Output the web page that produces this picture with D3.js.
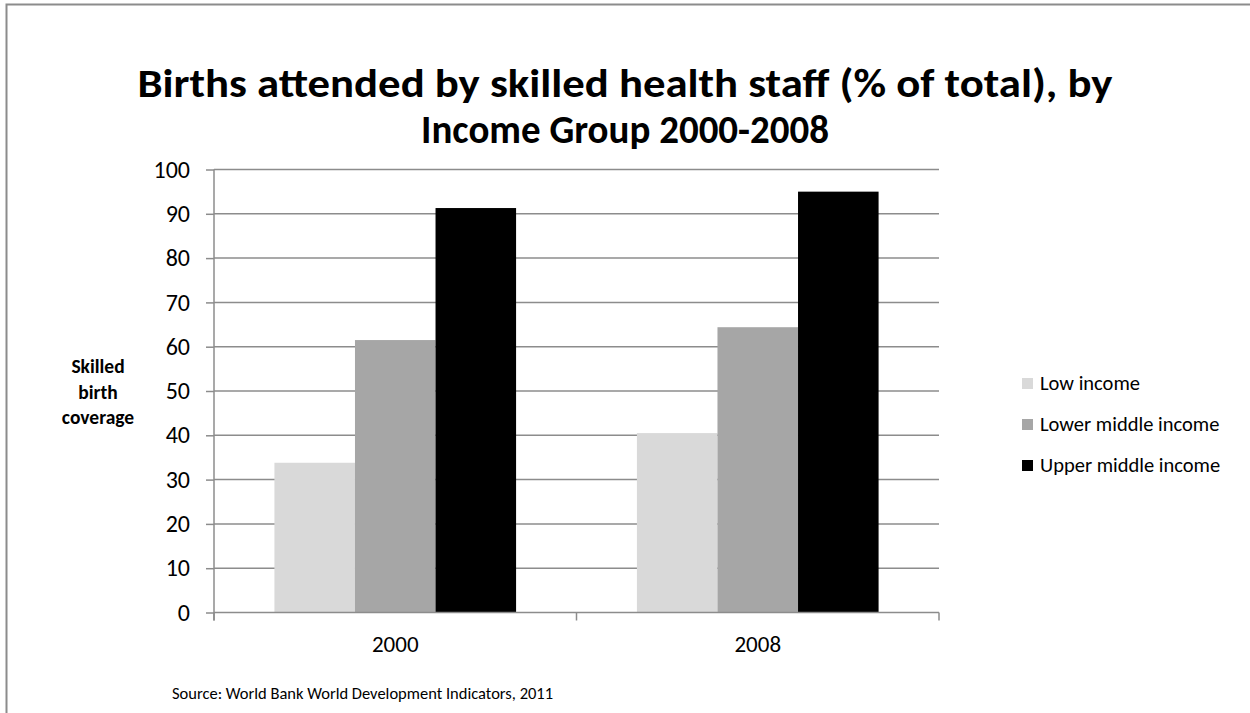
<!DOCTYPE html>
<html>
<head>
<meta charset="utf-8">
<script src="https://cdn.jsdelivr.net/npm/d3@7"></script>
<style>
  html, body { margin: 0; padding: 0; background: #fff; }
  svg { display: block; font-family: Carlito, Calibri, Lato, "Open Sans", sans-serif; }
</style>
</head>
<body>
<svg id="chart" width="1250" height="713"></svg>
<script>
// Births attended by skilled health staff, by income group
const years = ["2000", "2008"];
const seriesNames = ["Low income", "Lower middle income", "Upper middle income"];
const lowIncome = [33.8, 40.5];
const lowerMiddleIncome = [61.5, 64.4];
const upperMiddleIncome = [91.3, 95.0];
const seriesColors = ["#d9d9d9", "#a6a6a6", "#000000"];
const yTicks = [0, 10, 20, 30, 40, 50, 60, 70, 80, 90, 100];

const FONT = "Carlito, Calibri, Lato, 'Open Sans', sans-serif";
const seriesValues = [lowIncome, lowerMiddleIncome, upperMiddleIncome];
const rows = years.map((yr, i) => ({
  year: yr,
  values: seriesNames.map((s, j) => ({ series: s, idx: j, value: seriesValues[j][i] }))
}));

const svg = d3.select("#chart");
const plot = { left: 214, right: 939, top: 169.5, bottom: 612.5 };

// Outer frame (top and left edges visible)
svg.append("path")
  .attr("d", "M6.5,1250 L6.5,4.5 L1250,4.5")
  .attr("fill", "none").attr("stroke", "#8c8c8c").attr("stroke-width", 2);

// Title, two centred lines
const titleLines = [
  { text: "Births attended by skilled health staff (% of total), by", y: 97, w: 975 },
  { text: "Income Group 2000-2008", y: 143, w: 408 }
];
svg.append("g").selectAll("text").data(titleLines).join("text")
  .attr("x", 625).attr("y", d => d.y)
  .attr("text-anchor", "middle")
  .attr("font-weight", "bold")
  .attr("font-size", 41)
  .attr("textLength", d => d.w)
  .attr("lengthAdjust", "spacingAndGlyphs")
  .attr("fill", "#000")
  .text(d => d.text);

const x0 = d3.scaleBand().domain(years).range([plot.left, plot.right]).paddingInner(0).paddingOuter(0);
// 150% gap width: bars fill 3 / (3 + 1.5) of each category
const groupFrac = 3 / 4.5;
const x1 = d3.scaleBand().domain(d3.range(seriesNames.length))
  .range([0, x0.bandwidth() * groupFrac]).padding(0);
const y = d3.scaleLinear().domain([0, 100]).range([plot.bottom, plot.top]);

// Horizontal gridlines
svg.append("g").selectAll("line").data(yTicks.filter(t => t > 0)).join("line")
  .attr("x1", plot.left).attr("x2", plot.right)
  .attr("y1", d => y(d)).attr("y2", d => y(d))
  .attr("stroke", "#8c8c8c").attr("stroke-width", 1.5);

// Bars
const groups = svg.append("g").selectAll("g").data(rows).join("g")
  .attr("transform", d => `translate(${x0(d.year) + x0.bandwidth() * (1 - groupFrac) / 2},0)`);
groups.selectAll("rect").data(d => d.values).join("rect")
  .attr("x", d => x1(d.idx))
  .attr("width", x1.bandwidth())
  .attr("y", d => y(d.value))
  .attr("height", d => y(0) - y(d.value))
  .attr("fill", d => seriesColors[d.idx]);

// Y axis
const yAxis = svg.append("g").attr("transform", `translate(${plot.left},0)`)
  .call(d3.axisLeft(y).tickValues(yTicks).tickSize(8).tickPadding(16));
yAxis.select(".domain").attr("stroke", "#8c8c8c").attr("stroke-width", 1.5)
  .attr("d", `M0,${plot.top}V${plot.bottom + 8}`);
yAxis.selectAll(".tick line").attr("stroke", "#8c8c8c").attr("stroke-width", 1.5);
yAxis.selectAll(".tick text").attr("font-size", 24).attr("fill", "#000")
  .attr("font-family", FONT);

// X axis
const xAxis = svg.append("g").attr("transform", `translate(0,${plot.bottom})`)
  .call(d3.axisBottom(x0).tickSize(0).tickPadding(23));
xAxis.select(".domain").attr("stroke", "#8c8c8c").attr("stroke-width", 1.5)
  .attr("d", `M${plot.left},0H${plot.right}`);
xAxis.selectAll(".tick text").attr("font-size", 23).attr("fill", "#000")
  .attr("font-family", FONT);
// Category boundary tick marks
svg.append("g").selectAll("line")
  .data([plot.left, x0("2008"), plot.right]).join("line")
  .attr("x1", d => d).attr("x2", d => d)
  .attr("y1", plot.bottom).attr("y2", plot.bottom + 8)
  .attr("stroke", "#8c8c8c").attr("stroke-width", 1.5);

// Y axis title
const yt = svg.append("text").attr("text-anchor", "middle")
  .attr("font-weight", "bold").attr("font-size", 19.5).attr("fill", "#000");
["Skilled", "birth", "coverage"].forEach((w, i) =>
  yt.append("tspan").attr("x", 98).attr("y", 373 + i * 25.5).text(w));

// Legend
const legend = svg.append("g").selectAll("g").data(seriesNames).join("g")
  .attr("transform", (d, i) => `translate(1022,${383.5 + i * 41})`);
legend.append("rect").attr("x", 0).attr("y", -5.5).attr("width", 11).attr("height", 11)
  .attr("fill", (d, i) => seriesColors[i]);
legend.append("text").attr("x", 18).attr("y", 6.5)
  .attr("font-size", 20.5).attr("fill", "#000").text(d => d);

// Source note
svg.append("text").attr("x", 172).attr("y", 699)
  .attr("font-size", 16.5).attr("fill", "#000")
  .text("Source: World Bank World Development Indicators, 2011");
</script>
</body>
</html>
